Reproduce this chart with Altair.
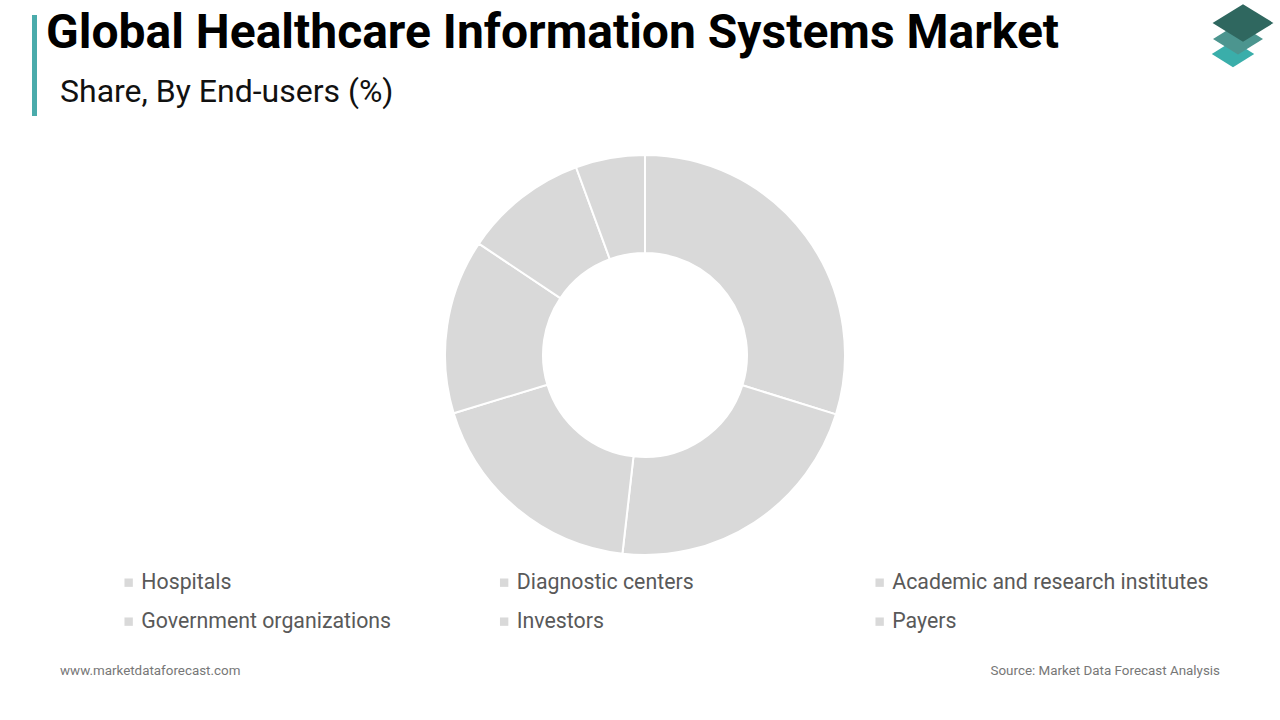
import altair as alt
import pandas as pd

categories = ["Hospitals", "Diagnostic centers", "Academic and research institutes",
              "Government organizations", "Investors", "Payers"]
shares = [29.8, 22.0, 18.5, 14.1, 10.0, 5.6]

title_text = "Global Healthcare Information Systems Market"
subtitle_text = "Share, By End-users (%)"
footer_left = "www.marketdataforecast.com"
footer_right = "Source: Market Data Forecast Analysis"

df = pd.DataFrame({"category": categories, "share": shares, "idx": list(range(len(categories)))})

W, H = 1280, 720
FONT = "Roboto"

donut = alt.Chart(df).mark_arc(
    innerRadius=102, outerRadius=200, stroke="white", strokeWidth=2
).encode(
    theta=alt.Theta("share:Q", stack=True),
    order=alt.Order("idx:Q"),
    color=alt.Color(
        "category:N",
        sort=categories,
        scale=alt.Scale(domain=categories, range=["#d9d9d9"] * len(categories)),
        legend=alt.Legend(
            title=None, orient="none", legendX=118, legendY=572, direction="horizontal",
            columns=3, columnPadding=35.5, rowPadding=17, symbolType="square",
            symbolSize=70, symbolStrokeWidth=0, symbolOffset=0, labelOffset=2,
            symbolFillColor="#d3d3d3",
            labelFont=FONT, labelFontSize=21.3, labelColor="#595959", labelLimit=0,
            gridAlign="all", padding=0
        ),
    ),
    x=alt.value(645),
    y=alt.value(355),
)

def text_layer(txt, x, y, size, weight="normal", color="#000", align="left", baseline="alphabetic"):
    return alt.Chart(pd.DataFrame({"t": [txt]})).mark_text(
        font=FONT, fontSize=size, fontWeight=weight, color=color, align=align, baseline=baseline
    ).encode(text="t:N", x=alt.value(x), y=alt.value(y))

title = text_layer(title_text, 46, 48, 48, weight="bold", color="#000000")
subtitle = text_layer(subtitle_text, 60, 102, 32, color="#111111")
fl = text_layer(footer_left, 60, 675, 13.4, color="#777777")
fr = text_layer(footer_right, 1220, 675, 13.4, color="#777777", align="right")

bar = alt.Chart(pd.DataFrame({"a": [0]})).mark_rule(color="#4aabab", strokeWidth=5).encode(
    x=alt.value(34.5), y=alt.value(15), y2=alt.value(116)
)

diamond = "M0,-0.62 L1,0 L0,0.62 L-1,0 Z"

def logo_piece(x, y, size, color):
    return alt.Chart(pd.DataFrame({"a": [0]})).mark_point(
        shape=diamond, filled=True, size=size, color=color, opacity=1, strokeWidth=0
    ).encode(x=alt.value(x), y=alt.value(y))

logo_b = logo_piece(1233, 54, 1800, "#3aaeaa")
logo_m = logo_piece(1238, 39, 2500, "#4c958f")
logo_t = logo_piece(1243, 23, 3700, "#2f675f")

chart = alt.layer(donut, title, subtitle, fl, fr, bar, logo_b, logo_m, logo_t).properties(
    width=W, height=H, autosize=alt.AutoSizeParams(type="none"), padding=0, background="white"
).configure_view(stroke=None)

chart.save("out.html", embed_options={"renderer": "svg", "actions": False})
